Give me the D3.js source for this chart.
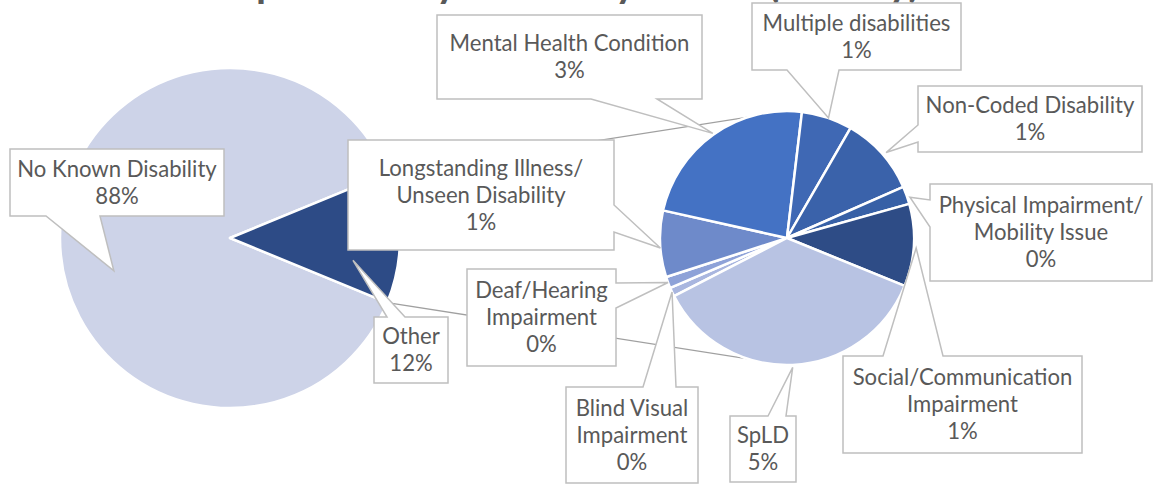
<!DOCTYPE html>
<html>
<head>
<meta charset="utf-8">
<script src="https://cdn.jsdelivr.net/npm/d3@7"></script>
<style>
  body { margin: 0; background: #fff; }
  svg { display: block; font-family: Lato, "Open Sans", sans-serif; }
</style>
</head>
<body>
<div id="chart"></div>
<script>
// values are % of all students
const mainCategories = ["No Known Disability", "Other"];
const mainValues = [87.6, 12.4];

const otherCategories = [
  "Blind Visual Impairment",
  "Deaf/Hearing Impairment",
  "Longstanding Illness/ Unseen Disability",
  "Mental Health Condition",
  "Multiple disabilities",
  "Non-Coded Disability",
  "Physical Impairment/ Mobility Issue",
  "Social/Communication Impairment",
  "SpLD"
];
const otherValues = [0.14, 0.18, 1.05, 2.9, 0.8, 1.25, 0.28, 1.3, 4.5];

const mainColors = ["#CDD3E8", "#2D4B86"];
const otherColors = ["#A9B6DF", "#8EA2D8", "#6E8ACA", "#4472C4", "#3F68B4", "#3A62AA", "#3760A6", "#2E4C86", "#B8C3E3"];

const titleText = "Composition by Disability Status (Faculty)";

const width = 1155, height = 485;
const left = { cx: 230, cy: 238, r: 170 };
const right = { cx: 787, cy: 238, r: 127, rotation: 242.8 };

// callout boxes: box [x0,y0,x1,y1], side the pointer leaves from, base of pointer on that side,
// t = position along the slice angle, k = fraction of radius for the pointer tip, words per line
const labelLayout = {
  "No Known Disability": { box: [10, 149, 224, 216], side: "bottom", base: [46, 100], t: 0.45, k: 0.71, wrap: [3] },
  "Other": { box: [374, 317, 448, 383], side: "top", base: [387, 405], t: 0.73, k: 0.735, wrap: [1] },
  "Blind Visual Impairment": { box: [566, 387, 698, 483], side: "top", base: [643, 676], t: 0.5, k: 1.0, wrap: [2, 1] },
  "Deaf/Hearing Impairment": { box: [467, 269, 616, 366], side: "right", base: [283, 308], t: 0.5, k: 1.0, wrap: [1, 1] },
  "Longstanding Illness/ Unseen Disability": { box: [348, 140, 614, 250], side: "right", base: [205, 232], t: 0.44, k: 1.0, wrap: [2, 2] },
  "Mental Health Condition": { box: [437, 15, 702, 99], side: "bottom", base: [591, 657], t: 0.5, k: 1.01, wrap: [3] },
  "Multiple disabilities": { box: [752, 3, 961, 70], side: "bottom", base: [787, 839], t: 0.53, k: 1.0, wrap: [2] },
  "Non-Coded Disability": { box: [918, 86, 1142, 152], side: "left", base: [125, 142], t: 0.53, k: 1.03, wrap: [2] },
  "Physical Impairment/ Mobility Issue": { box: [930, 184, 1152, 281], side: "left", base: [200, 227], t: 0.66, k: 1.02, wrap: [2, 2] },
  "Social/Communication Impairment": { box: [843, 356, 1082, 453], side: "top", base: [883, 943], t: 0.53, k: 1.02, wrap: [1, 1] },
  "SpLD": { box: [730, 416, 796, 482], side: "top", base: [768, 786], t: 0.5, k: 1.02, wrap: [1] }
};

const svg = d3.select("#chart").append("svg")
  .attr("width", width)
  .attr("height", height);

const rad = d => d * Math.PI / 180;
const mainTotal = d3.sum(mainValues);

// first pie: the "Other" wedge is centred on the right-hand side
const mainStart = Math.PI / 2 + Math.PI * mainValues[1] / mainTotal;
const mainPie = d3.pie().sort(null).value(d => d.value)
  .startAngle(mainStart).endAngle(mainStart + 2 * Math.PI);
const mainArcs = mainPie(mainCategories.map((c, i) => ({ name: c, value: mainValues[i], color: mainColors[i] })));

const otherPie = d3.pie().sort(null).value(d => d.value)
  .startAngle(rad(right.rotation)).endAngle(rad(right.rotation) + 2 * Math.PI);
const otherArcs = otherPie(otherCategories.map((c, i) => ({ name: c, value: otherValues[i], color: otherColors[i] })));

const polar = (c, a, rr) => [c.cx + rr * Math.sin(a), c.cy - rr * Math.cos(a)];

// series lines between the "Other" wedge and the second pie
const otherWedge = mainArcs[1];
const seriesLines = [
  [polar(left, otherWedge.startAngle, left.r), [right.cx, right.cy - right.r]],
  [polar(left, otherWedge.endAngle, left.r), [right.cx, right.cy + right.r]]
];
svg.append("g")
  .selectAll("line")
  .data(seriesLines)
  .join("line")
  .attr("x1", d => d[0][0]).attr("y1", d => d[0][1])
  .attr("x2", d => d[1][0]).attr("y2", d => d[1][1])
  .attr("stroke", "#A0A0A0")
  .attr("stroke-width", 1.3);

function drawPie(arcs, c) {
  const arc = d3.arc().innerRadius(0).outerRadius(c.r);
  svg.append("g")
    .attr("transform", `translate(${c.cx},${c.cy})`)
    .selectAll("path")
    .data(arcs)
    .join("path")
    .attr("d", arc)
    .attr("fill", d => d.data.color)
    .attr("stroke", "#fff")
    .attr("stroke-width", 2.5)
    .attr("stroke-linejoin", "round");
}
drawPie(mainArcs, left);
drawPie(otherArcs, right);

// title, mostly off the top edge like the original
const title = svg.append("text")
  .attr("x", 172)
  .attr("y", -3)
  .attr("fill", "#595959")
  .attr("font-weight", 700)
  .attr("font-size", 40)
  .text(titleText);
const tw = title.node().getComputedTextLength();
title.attr("font-size", 40 * 748 / tw);

// fit label size so the text widths are close to the original
const probe = svg.append("text").attr("font-size", 24).text("Mental Health Condition");
const labelSize = 24 * 240 / probe.node().getComputedTextLength();
probe.remove();
const lineH = labelSize * 1.21;

function calloutPath(l, tip) {
  const [x0, y0, x1, y1] = l.box, [a1, a2] = l.base, [tx, ty] = tip;
  const p = d3.path();
  p.moveTo(x0, y0);
  if (l.side === "top") { p.lineTo(a1, y0); p.lineTo(tx, ty); p.lineTo(a2, y0); }
  p.lineTo(x1, y0);
  if (l.side === "right") { p.lineTo(x1, a1); p.lineTo(tx, ty); p.lineTo(x1, a2); }
  p.lineTo(x1, y1);
  if (l.side === "bottom") { p.lineTo(a2, y1); p.lineTo(tx, ty); p.lineTo(a1, y1); }
  p.lineTo(x0, y1);
  if (l.side === "left") { p.lineTo(x0, a2); p.lineTo(tx, ty); p.lineTo(x0, a1); }
  p.closePath();
  return p.toString();
}

const labelData = mainArcs.map(d => ({ d, c: left }))
  .concat(otherArcs.map(d => ({ d, c: right })));

const labels = svg.append("g")
  .selectAll("g")
  .data(labelData)
  .join("g");

labels.append("path")
  .attr("d", ({ d, c }) => {
    const l = labelLayout[d.data.name];
    const a = d.startAngle + l.t * (d.endAngle - d.startAngle);
    return calloutPath(l, polar(c, a, c.r * l.k));
  })
  .attr("fill", "#fff")
  .attr("stroke", "#BFBFBF")
  .attr("stroke-width", 1.5)
  .attr("stroke-linejoin", "miter");

labels.each(function ({ d }) {
  const l = labelLayout[d.data.name];
  const words = d.data.name.split(" ");
  const lines = [];
  let i = 0;
  for (const n of l.wrap) { lines.push(words.slice(i, i + n).join(" ")); i += n; }
  lines.push(Math.round(d.data.value) + "%");
  const bx = (l.box[0] + l.box[2]) / 2;
  const by = (l.box[1] + l.box[3]) / 2;
  const y0 = by - (lines.length - 1) / 2 * lineH + labelSize * 0.35;
  d3.select(this).append("text")
    .attr("fill", "#595959")
    .attr("font-size", labelSize)
    .attr("text-anchor", "middle")
    .selectAll("tspan")
    .data(lines)
    .join("tspan")
    .attr("x", bx)
    .attr("y", (t, j) => y0 + j * lineH)
    .text(t => t);
});
</script>
</body>
</html>
